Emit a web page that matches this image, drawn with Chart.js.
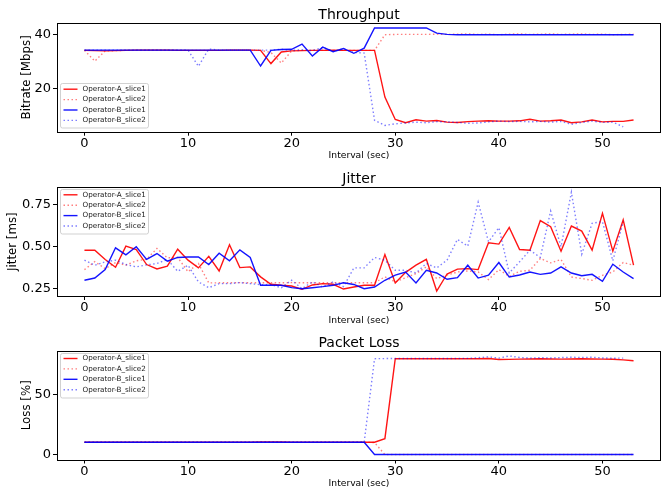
<!DOCTYPE html>
<html>
<head>
<meta charset="utf-8">
<script src="https://cdn.jsdelivr.net/npm/chart.js@4.4.1/dist/chart.umd.min.js"></script>
<style>
  body { margin: 0; background: #fff; }
  canvas { position: absolute; left: 0; }
</style>
</head>
<body>
<canvas id="throughput" width="662" height="163" style="top:0"></canvas>
<canvas id="jitter" width="662" height="163" style="top:163px"></canvas>
<canvas id="loss" width="662" height="163" style="top:326px"></canvas>
<script>
// x axis: one sample per second
const intervals = [0, 1, 2, 3, 4, 5, 6, 7, 8, 9, 10, 11, 12, 13, 14, 15, 16, 17, 18, 19,
    20, 21, 22, 23, 24, 25, 26, 27, 28, 29, 30, 31, 32, 33, 34, 35, 36, 37, 38, 39,
    40, 41, 42, 43, 44, 45, 46, 47, 48, 49, 50, 51, 52, 53];
const xTicks = [0, 10, 20, 30, 40, 50];
const seriesNames = ['Operator-A_slice1', 'Operator-A_slice2', 'Operator-B_slice1', 'Operator-B_slice2'];

// Throughput [Mbps]
const bitrateA1 = [34.2, 34.1, 34.0, 34.1, 34.2, 34.3, 34.3, 34.3, 34.3, 34.2, 34.2, 34.2, 34.2, 34.2, 34.3, 34.3, 34.3, 34.2,
    29.3, 33.6, 34.0, 34.1, 34.2, 34.2, 34.3, 34.2, 34.2, 34.2, 34.2, 16.9, 8.6, 7.4, 8.5, 8.0, 8.2, 7.6, 7.5, 7.8,
    8.0, 8.1, 8.0, 8.0, 8.1, 8.7, 8.0, 8.1, 8.4, 7.4, 7.7, 8.4, 7.7, 7.9, 7.9, 8.4];
const bitrateA2 = [34.2, 30.2, 34.0, 34.1, 34.2, 34.2, 34.2, 34.3, 34.3, 34.2, 34.2, 34.2, 34.2, 34.2, 34.2, 34.3, 34.2, 34.2,
    33.4, 29.5, 34.0, 34.2, 34.2, 34.3, 34.2, 34.2, 34.2, 34.2, 34.2, 40.0, 40.1, 40.1, 40.1, 40.1, 40.2, 40.1, 40.2, 40.3,
    40.1, 40.2, 40.0, 40.2, 40.3, 40.1, 40.2, 40.3, 40.1, 40.2, 40.3, 40.1, 40.2, 40.0, 40.1, 40.2];
const bitrateB1 = [34.3, 34.3, 34.3, 34.3, 34.3, 34.3, 34.3, 34.3, 34.3, 34.3, 34.3, 34.3, 34.3, 34.3, 34.3, 34.3, 34.3,
    28.4, 34.2, 34.5, 34.6, 36.5, 32.1, 35.4, 33.7, 34.9, 33.1, 35.0, 42.5, 42.5, 42.5, 42.5, 42.5, 42.5, 40.6, 40.1,
    40.0, 40.0, 40.0, 40.0, 40.0, 40.0, 40.0, 40.0, 40.0, 40.0, 40.0, 40.0, 40.0, 40.0, 40.0, 40.0, 40.0, 40.0];
const bitrateB2 = [34.3, 34.3, 34.3, 34.3, 34.3, 34.3, 34.3, 34.3, 34.3, 34.3, 34.3, 28.3, 34.7, 34.3, 34.3, 34.3, 34.3,
    34.3, 34.3, 34.6, 34.2, 34.4, 34.1, 35.3, 33.8, 34.8, 33.4, 33.2, 8.3, 6.4, 7.0, 7.3, 7.6, 7.4, 7.8, 7.7, 7.5, 7.2,
    7.3, 7.7, 8.0, 7.8, 7.9, 7.7, 7.9, 7.6, 7.9, 6.8, 7.5, 8.0, 7.5, 7.6, 5.9];
const bitrateTicks = [20, 40];

// Jitter [ms]
const jitterA1 = [0.478, 0.478, 0.423, 0.377, 0.502, 0.482, 0.393, 0.367, 0.383, 0.484,
    0.419, 0.373, 0.442, 0.355, 0.51, 0.375, 0.379, 0.32, 0.276, 0.27,
    0.266, 0.246, 0.272, 0.28, 0.276, 0.248, 0.26, 0.27, 0.27, 0.452,
    0.284, 0.347, 0.389, 0.424, 0.236, 0.337, 0.366, 0.369, 0.363, 0.522,
    0.514, 0.613, 0.482, 0.478, 0.653, 0.617, 0.472, 0.621, 0.591, 0.478,
    0.696, 0.472, 0.657, 0.389];
const jitterA2 = [0.363, 0.41, 0.369, 0.405, 0.389, 0.415, 0.425, 0.488, 0.433, 0.435,
    0.35, 0.399, 0.284, 0.285, 0.285, 0.286, 0.285, 0.285, 0.285, 0.285,
    0.286, 0.285, 0.285, 0.285, 0.285, 0.286, 0.285, 0.285, 0.285, 0.32,
    0.29, 0.315, 0.339, 0.379, 0.31, 0.33, 0.349, 0.355, 0.349, 0.304,
    0.363, 0.323, 0.353, 0.359, 0.429, 0.403, 0.423, 0.319, 0.31, 0.3,
    0.329, 0.349, 0.405, 0.389];
const jitterB1 = [0.30, 0.313, 0.363, 0.492, 0.45, 0.498, 0.423, 0.458, 0.413, 0.435,
    0.438, 0.438, 0.393, 0.46, 0.415, 0.48, 0.435, 0.27, 0.27, 0.27,
    0.256, 0.25, 0.256, 0.262, 0.27, 0.285, 0.275, 0.25, 0.26, 0.3,
    0.33, 0.349, 0.284, 0.359, 0.343, 0.306, 0.315, 0.389, 0.313, 0.33,
    0.405, 0.319, 0.331, 0.349, 0.335, 0.343, 0.379, 0.343, 0.327, 0.335,
    0.294, 0.395, 0.349, 0.31];
const jitterB2 = [0.419, 0.389, 0.409, 0.419, 0.393, 0.379, 0.391, 0.399, 0.423, 0.353,
    0.389, 0.29, 0.256, 0.28, 0.28, 0.286, 0.28, 0.274, 0.274, 0.256,
    0.30, 0.25, 0.29, 0.26, 0.29, 0.262, 0.373, 0.373, 0.435, 0.419,
    0.359, 0.359, 0.343, 0.399, 0.373, 0.419, 0.542, 0.502, 0.762, 0.528,
    0.611, 0.343, 0.409, 0.478, 0.435, 0.71, 0.498, 0.821, 0.454, 0.637,
    0.647, 0.415, 0.647];
const jitterTicks = [0.25, 0.5, 0.75];

// Packet loss [%]
const lossA1 = [10.3, 10.3, 10.3, 10.3, 10.3, 10.3, 10.3, 10.3, 10.3, 10.3, 10.3, 10.3, 10.3, 10.3, 10.3, 10.3, 10.3,
    10.6, 10.6, 10.5, 10.3, 10.3, 10.3, 10.3, 10.3, 10.3, 10.3, 10.3, 10.3, 13.3,
    80.0, 80.0, 80.0, 80.0, 80.0, 80.0, 80.0, 80.0, 80.0, 80.1, 79.3, 79.4, 79.6, 79.8, 79.9, 79.8, 79.6, 79.8,
    79.9, 79.8, 79.6, 79.5, 79.0, 78.3];
const lossA2 = [10.3, 10.3, 10.3, 10.3, 10.3, 10.3, 10.3, 10.3, 10.3, 10.3, 10.3, 10.3, 10.3, 10.3, 10.3, 10.3, 10.3,
    10.7, 10.7, 10.6, 10.3, 10.3, 10.3, 10.3, 10.3, 10.3, 10.3, 10.3, 10.0, 0.0,
    0.0, 0.0, 0.0, 0.0, 0.0, 0.0, 0.0, 0.0, 0.0, 0.0, 0.0, 0.0, 0.0, 0.0, 0.0, 0.0, 0.0, 0.0,
    0.0, 0.0, 0.0, 0.0, 0.0, 0.0];
const lossB1 = [10.3, 10.3, 10.3, 10.3, 10.3, 10.3, 10.3, 10.3, 10.3, 10.3, 10.3, 10.3, 10.3, 10.3, 10.3, 10.3, 10.3,
    10.3, 10.3, 10.3, 10.3, 10.3, 10.3, 10.3, 10.3, 10.3, 10.3, 10.3, 0.0, 0.0,
    0.0, 0.0, 0.0, 0.0, 0.0, 0.0, 0.0, 0.0, 0.0, 0.0, 0.0, 0.0, 0.0, 0.0, 0.0, 0.0, 0.0, 0.0,
    0.0, 0.0, 0.0, 0.0, 0.0, 0.0];
const lossB2 = [10.3, 10.3, 10.3, 10.3, 10.3, 10.3, 10.3, 10.3, 10.3, 10.3, 10.3, 10.3, 10.3, 10.4, 10.3, 10.3, 10.3,
    10.3, 10.3, 10.3, 10.3, 10.3, 10.3, 10.3, 10.3, 10.3, 10.3, 10.3, 80.0, 80.1,
    80.1, 80.1, 80.1, 80.2, 80.1, 80.2, 80.2, 80.3, 80.8, 81.5, 80.5, 82.3, 81.0, 80.5, 80.8, 80.6, 80.9, 81.2,
    81.0, 81.2, 80.6, 80.4, 80.5];
const lossTicks = [0, 50];

const lineStyles = [
    {color: 'rgba(255,0,0,0.92)', dash: []},
    {color: 'rgba(255,0,0,0.5)', dash: [1.5, 2.5]},
    {color: 'rgba(0,0,255,0.92)', dash: []},
    {color: 'rgba(0,0,255,0.5)', dash: [1.5, 2.5]},
];

const FONT = 'DejaVu Sans';
const W = 662;
const H = 163;

// Draws the matplotlib-like frame, titles and legend box.
const framePlugin = {
    id: 'frame',
    afterDraw(chart, args, opts) {
        const {ctx, chartArea: a} = chart;
        const l = Math.round(a.left) + 0.5, t = Math.round(a.top) + 0.5;
        const r = Math.round(a.right) - 0.5, b = Math.round(a.bottom) + 0.5;
        ctx.save();
        ctx.strokeStyle = '#000';
        ctx.lineWidth = 1;
        ctx.strokeRect(l, t, r - l, b - t);

        ctx.fillStyle = '#000';
        ctx.textAlign = 'center';
        ctx.textBaseline = 'alphabetic';
        ctx.font = `14px "${FONT}"`;
        ctx.fillText(opts.title, (a.left + a.right) / 2, a.top - 4);
        ctx.font = `9.2px "${FONT}"`;
        ctx.fillText('Interval (sec)', (a.left + a.right) / 2, a.bottom + 26.5);

        ctx.save();
        ctx.translate(opts.ylabelX, (a.top + a.bottom) / 2);
        ctx.rotate(-Math.PI / 2);
        ctx.textBaseline = 'middle';
        ctx.font = `11.8px "${FONT}"`;
        ctx.fillText(opts.ylabel, 0, 0);
        ctx.restore();

        // legend
        const lw = 88, lh = 44.5;
        const lx = a.left + 2.5;
        const ly = opts.legend === 'lower' ? a.bottom - 4 - lh : a.top + 1.5;
        ctx.fillStyle = 'rgba(255,255,255,0.8)';
        ctx.strokeStyle = 'rgba(204,204,204,0.9)';
        ctx.beginPath();
        ctx.roundRect(Math.round(lx) + 0.5, Math.round(ly) + 0.5, lw, lh, 2);
        ctx.fill();
        ctx.stroke();
        ctx.font = `7.2px "${FONT}"`;
        ctx.textAlign = 'left';
        ctx.textBaseline = 'middle';
        chart.data.datasets.forEach((ds, i) => {
            const y = ly + 6 + i * 10.4;
            ctx.strokeStyle = ds.borderColor;
            ctx.lineWidth = ds.borderWidth;
            ctx.setLineDash(ds.borderDash);
            ctx.beginPath();
            ctx.moveTo(lx + 4, y);
            ctx.lineTo(lx + 18, y);
            ctx.stroke();
            ctx.setLineDash([]);
            ctx.fillStyle = '#1a1a1a';
            ctx.fillText(ds.label, lx + 23, y);
        });
        ctx.restore();
    },
};

const axisStyle = {
    grid: {drawOnChartArea: false, drawTicks: true, tickLength: 4, color: '#000', lineWidth: 1},
    border: {display: false},
};

const makePanel = (id, cfg) => {
    const datasets = cfg.series.map((values, i) => ({
        label: seriesNames[i],
        data: values.map((v, j) => ({x: intervals[j], y: v})),
        borderColor: lineStyles[i].color,
        borderDash: lineStyles[i].dash,
        borderWidth: 1.4,
        pointRadius: 0,
        tension: 0,
        fill: false,
        order: 3 - i,
    }));
    const all = cfg.series.flat();
    const lo = Math.min(...all);
    const hi = Math.max(...all);
    const margin = (hi - lo) * 0.05;

    return new Chart(document.getElementById(id), {
        type: 'line',
        data: {datasets},
        options: {
            responsive: false,
            animation: false,
            layout: {padding: {top: cfg.top, right: 1, left: 0, bottom: 0}},
            plugins: {
                legend: {display: false},
                tooltip: {enabled: false},
                frame: {title: cfg.title, ylabel: cfg.ylabel, ylabelX: cfg.ylabelX, legend: cfg.legend},
            },
            scales: {
                x: {
                    type: 'linear',
                    min: -2.65,
                    max: 55.65,
                    afterBuildTicks: (s) => {
                        s.ticks = xTicks.map((v) => ({value: v}));
                    },
                    afterFit: (s) => {
                        s.height = H - cfg.bottom;
                    },
                    ticks: {font: {family: FONT, size: 13}, color: '#000', padding: 0, maxRotation: 0},
                    ...axisStyle,
                },
                y: {
                    type: 'linear',
                    min: lo - margin,
                    max: hi + margin,
                    afterBuildTicks: (s) => {
                        s.ticks = cfg.ticks.map((v) => ({value: v}));
                    },
                    afterFit: (s) => {
                        s.width = 57;
                    },
                    ticks: {
                        font: {family: FONT, size: 13},
                        color: '#000',
                        padding: 2,
                        callback: cfg.fmt,
                    },
                    ...axisStyle,
                },
            },
        },
        plugins: [framePlugin],
    });
};

makePanel('throughput', {
    series: [bitrateA1, bitrateA2, bitrateB1, bitrateB2],
    ticks: bitrateTicks,
    fmt: (v) => String(v),
    title: 'Throughput',
    ylabel: 'Bitrate [Mbps]',
    ylabelX: 27,
    legend: 'lower',
    top: 23,
    bottom: 131.7,
});

makePanel('jitter', {
    series: [jitterA1, jitterA2, jitterB1, jitterB2],
    ticks: jitterTicks,
    fmt: (v) => v.toFixed(2),
    title: 'Jitter',
    ylabel: 'Jitter [ms]',
    ylabelX: 13,
    legend: 'upper',
    top: 24.3,
    bottom: 133,
});

makePanel('loss', {
    series: [lossA1, lossA2, lossB1, lossB2],
    ticks: lossTicks,
    fmt: (v) => String(v),
    title: 'Packet Loss',
    ylabel: 'Loss [%]',
    ylabelX: 27,
    legend: 'upper',
    top: 25,
    bottom: 133.5,
});
</script>
</body>
</html>
